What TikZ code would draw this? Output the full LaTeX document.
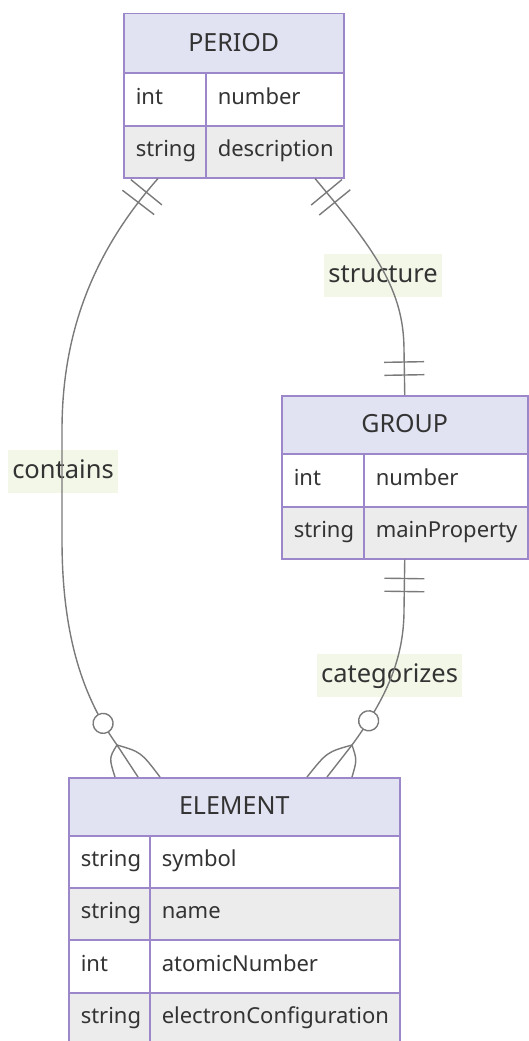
\documentclass[tikz,border=0pt]{standalone}
\usepackage{fontspec}
\setmainfont{Noto Sans}
\usetikzlibrary{decorations.markings}
\definecolor{erborder}{HTML}{9B87C9}
\definecolor{hdrfill}{HTML}{E1E3F3}
\definecolor{roweven}{HTML}{ECECEC}
\definecolor{txt}{HTML}{333333}
\definecolor{relcol}{HTML}{7A7A7A}
\definecolor{lblbg}{HTML}{F3F7E8}
\newcommand\erHeadFont{\fontsize{25}{29}\selectfont}
\newcommand\erAttrFont{\fontsize{22}{26}\selectfont}
\newcommand\erLblFont{\fontsize{25.5}{30}\selectfont}
\tikzset{
  enthead/.style={draw=erborder, line width=1.5pt, fill=hdrfill, inner sep=0pt, anchor=north west,
    font=\erHeadFont, text=txt, text height=18pt, text depth=2pt},
  cellodd/.style={draw=erborder, line width=1.5pt, fill=white, anchor=north west, inner xsep=12pt,
    inner ysep=0pt, align=left, font=\erAttrFont, text=txt, text height=15pt, text depth=5pt},
  celleven/.style={cellodd, fill=roweven},
  rel/.style={draw=relcol, line width=1.4pt},
  lbl/.style={fill=lblbg, text=txt, font=\erLblFont,
    text height=19pt, text depth=6pt, inner xsep=4pt, inner ysep=9pt},
}
\begin{document}
\begin{tikzpicture}[x=1pt,y=-1pt]
\useasboundingbox (0,0) rectangle (528,1041);
% PERIOD
\node[enthead, minimum width=220, minimum height=59] (pH) at (123,13) {PERIOD};
\node[cellodd, minimum width=82, minimum height=53, text width=58] (pT1) at (123,72) {int};
\node[cellodd, minimum width=138, minimum height=53, text width=114] (pN1) at (205,72) {number};
\node[celleven, minimum width=82, minimum height=52, text width=58] (pT2) at (123,125) {string};
\node[celleven, minimum width=138, minimum height=52, text width=114] (pN2) at (205,125) {description};
% GROUP
\node[enthead, minimum width=246, minimum height=58] (gH) at (281,395) {GROUP};
\node[cellodd, minimum width=82, minimum height=53, text width=58] (gT1) at (281,453) {int};
\node[cellodd, minimum width=164, minimum height=53, text width=140] (gN1) at (363,453) {number};
\node[celleven, minimum width=82, minimum height=52, text width=58] (gT2) at (281,506) {string};
\node[celleven, minimum width=164, minimum height=52, text width=140] (gN2) at (363,506) {mainProperty};
% ELEMENT
\node[enthead, minimum width=331, minimum height=58] (eH) at (68,777) {ELEMENT};
\node[cellodd, minimum width=81, minimum height=52, text width=57] (eT1) at (68,835) {string};
\node[cellodd, minimum width=250, minimum height=52, text width=226] (eN1) at (149,835) {symbol};
\node[celleven, minimum width=81, minimum height=52, text width=57] (eT2) at (68,887) {string};
\node[celleven, minimum width=250, minimum height=52, text width=226] (eN2) at (149,887) {name};
\node[cellodd, minimum width=81, minimum height=53, text width=57] (eT3) at (68,939) {int};
\node[cellodd, minimum width=250, minimum height=53, text width=226] (eN3) at (149,939) {atomicNumber};
\node[celleven, minimum width=81, minimum height=52, text width=57] (eT4) at (68,992) {string};
\node[celleven, minimum width=250, minimum height=52, text width=226] (eN4) at (149,992) {electronConfiguration};
% labels (under the connectors)
\node[lbl] (lContains) at (63,471.5) {contains};
\node[lbl] (lStructure) at (383,275.5) {structure};
\node[lbl] (lCategorizes) at (389.5,675.5) {categorizes};
% anchor coordinates
\coordinate (cS) at ([xshift=35pt]pT2.south west);
\coordinate (sS) at ([xshift=110pt]pN2.south west);
\coordinate (gB) at (gN2.south west -| gH.north);
\coordinate (cE) at ([xshift=70pt]eH.north west);
\coordinate (kE) at ([xshift=259pt]eH.north west);
\coordinate (cA) at (117,745);
\coordinate (kA) at (352,745);
% contains
\draw[rel, postaction={decorate}, decoration={markings,
   mark=at position 18pt with {\draw[rel] (0pt,-20pt) -- (0pt,20pt);},
   mark=at position 31pt with {\draw[rel] (0pt,-20pt) -- (0pt,20pt);},
   mark=at position -64pt with {\draw[rel, fill=white] (0pt,0pt) circle (10pt);}}]
  (cS) .. controls (95,250) and (62,330) .. (62,430) -- (62,540)
       .. controls (62,640) and (85,700) .. (cA) -- (cE);
\draw[rel] (cA) .. controls (109,758) .. (115,777);
\draw[rel] (cA) .. controls (141,752) .. (160,777);
% structure
\draw[rel, postaction={decorate}, decoration={markings,
   mark=at position 18pt with {\draw[rel] (0pt,-20pt) -- (0pt,20pt);},
   mark=at position 31pt with {\draw[rel] (0pt,-20pt) -- (0pt,20pt);},
   mark=at position -20pt with {\draw[rel] (0pt,-20pt) -- (0pt,20pt);},
   mark=at position -33pt with {\draw[rel] (0pt,-20pt) -- (0pt,20pt);}}]
  (sS) .. controls (375,250) and (404,290) .. (404,350) -- (gH.north);
% categorizes
\draw[rel, postaction={decorate}, decoration={markings,
   mark=at position 19pt with {\draw[rel] (0pt,-20pt) -- (0pt,20pt);},
   mark=at position 32pt with {\draw[rel] (0pt,-20pt) -- (0pt,20pt);},
   mark=at position -70pt with {\draw[rel, fill=white] (0pt,0pt) circle (10pt);}}]
  (gB) -- (404,610) .. controls (404,660) and (385,700) .. (kA) -- (kE);
\draw[rel] (kA) .. controls (327,752) .. (307,777);
\draw[rel] (kA) .. controls (357,760) .. (352,777);
\end{tikzpicture}
\end{document}
